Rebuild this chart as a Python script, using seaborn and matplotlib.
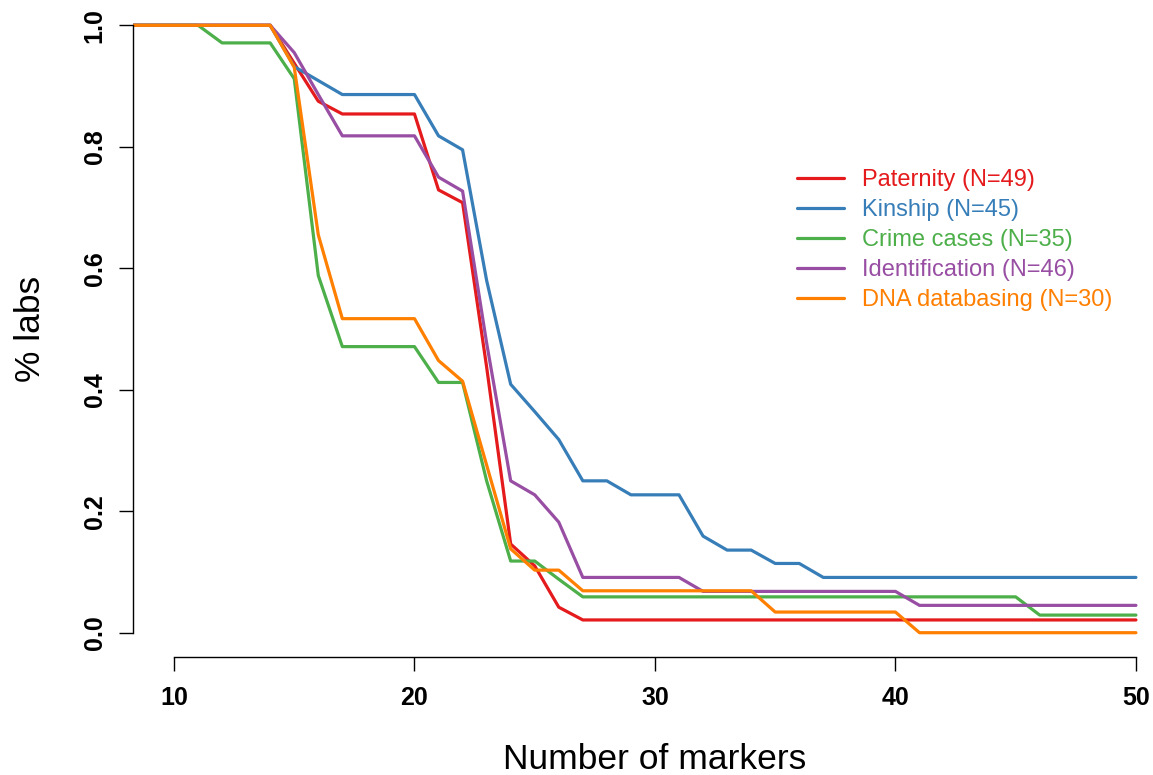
import matplotlib
matplotlib.use("Agg")
import matplotlib.pyplot as plt
import seaborn as sns
import pandas as pd

# ---------------- data ----------------
markers = [8, 9, 10, 11, 12, 13, 14, 15, 16, 17, 18, 19, 20, 21, 22, 23, 24, 25, 26, 27, 28,
           29, 30, 31, 32, 33, 34, 35, 36, 37, 38, 39, 40, 41, 42, 43, 44, 45, 46, 47, 48, 49, 50]

paternity = [1.0, 1.0, 1.0, 1.0, 1.0, 1.0, 1.0, 0.9375, 0.875, 0.854, 0.854, 0.854, 0.854,
             0.729, 0.708, 0.4375, 0.146, 0.11, 0.042, 0.021, 0.021, 0.021, 0.021, 0.021,
             0.021, 0.021, 0.021, 0.021, 0.021, 0.021, 0.021, 0.021, 0.021, 0.021, 0.021,
             0.021, 0.021, 0.021, 0.021, 0.021, 0.021, 0.021, 0.021]

kinship = [1.0, 1.0, 1.0, 1.0, 1.0, 1.0, 1.0, 0.932, 0.909, 0.886, 0.886, 0.886, 0.886,
           0.818, 0.795, 0.58, 0.409, 0.364, 0.318, 0.25, 0.25, 0.227, 0.227, 0.227,
           0.159, 0.136, 0.136, 0.114, 0.114, 0.091, 0.091, 0.091, 0.091, 0.091, 0.091,
           0.091, 0.091, 0.091, 0.091, 0.091, 0.091, 0.091, 0.091]

crime = [1.0, 1.0, 1.0, 1.0, 0.971, 0.971, 0.971, 0.912, 0.588, 0.471, 0.471, 0.471, 0.471,
         0.412, 0.412, 0.25, 0.118, 0.118, 0.088, 0.059, 0.059, 0.059, 0.059, 0.059,
         0.059, 0.059, 0.059, 0.059, 0.059, 0.059, 0.059, 0.059, 0.059, 0.059, 0.059,
         0.059, 0.059, 0.059, 0.029, 0.029, 0.029, 0.029, 0.029]

identification = [1.0, 1.0, 1.0, 1.0, 1.0, 1.0, 1.0, 0.955, 0.886, 0.818, 0.818, 0.818, 0.818,
                  0.75, 0.727, 0.477, 0.25, 0.227, 0.182, 0.091, 0.091, 0.091, 0.091, 0.091,
                  0.068, 0.068, 0.068, 0.068, 0.068, 0.068, 0.068, 0.068, 0.068, 0.045, 0.045,
                  0.045, 0.045, 0.045, 0.045, 0.045, 0.045, 0.045, 0.045]

databasing = [1.0, 1.0, 1.0, 1.0, 1.0, 1.0, 1.0, 0.931, 0.655, 0.517, 0.517, 0.517, 0.517,
              0.448, 0.414, 0.276, 0.138, 0.103, 0.103, 0.069, 0.069, 0.069, 0.069, 0.069,
              0.069, 0.069, 0.069, 0.034, 0.034, 0.034, 0.034, 0.034, 0.034, 0.0, 0.0,
              0.0, 0.0, 0.0, 0.0, 0.0, 0.0, 0.0, 0.0]

series_labels = ["Paternity (N=49)", "Kinship (N=45)", "Crime cases (N=35)",
                 "Identification (N=46)", "DNA databasing (N=30)"]
series_values = [paternity, kinship, crime, identification, databasing]
series_colors = ["#E41A1C", "#377EB8", "#4DAF4A", "#984EA3", "#FF7F00"]

x_ticks = [10, 20, 30, 40, 50]
y_ticks = [0.0, 0.2, 0.4, 0.6, 0.8, 1.0]
y_ticklabels = ["0.0", "0.2", "0.4", "0.6", "0.8", "1.0"]

# ---------------- build table ----------------
rows = []
for lab, vals in zip(series_labels, series_values):
    for m, v in zip(markers, vals):
        rows.append({"markers": m, "labs": v, "type": lab})
df = pd.DataFrame(rows)

# ---------------- style ----------------
sns.set_style("white")
plt.rcParams["font.family"] = ["Liberation Sans", "DejaVu Sans"]
plt.rcParams["text.color"] = "black"
plt.rcParams["axes.labelcolor"] = "black"
plt.rcParams["xtick.color"] = "black"
plt.rcParams["ytick.color"] = "black"

W, H = 1153, 775
fig = plt.figure(figsize=(W / 100, H / 100), dpi=100)
ax = fig.add_axes([133 / W, 118 / H, (W - 133) / W, (H - 118 - 1) / H])

sns.lineplot(data=df, x="markers", y="labs", hue="type", hue_order=series_labels,
             palette=dict(zip(series_labels, series_colors)), linewidth=2.3,
             ax=ax, legend=True)

ax.set_xlim(8.295, 50.71)
ax.set_ylim(-0.04, 1.04)

for s in ["top", "right"]:
    ax.spines[s].set_visible(False)
ax.spines["left"].set_bounds(0, 1)
ax.spines["bottom"].set_bounds(10, 50)
for s in ["left", "bottom"]:
    ax.spines[s].set_color("black")
    ax.spines[s].set_linewidth(1.0)

ax.set_xticks(x_ticks)
ax.set_xticklabels([str(t) for t in x_ticks], fontsize=18, fontweight="bold", color="black")
ax.set_yticks(y_ticks)
ax.set_yticklabels(y_ticklabels, fontsize=18, fontweight="bold", rotation=90, va="center",
                   color="black")
ax.tick_params(axis="both", direction="out", length=10, width=1.0, color="black")
ax.tick_params(axis="x", pad=11, bottom=True)
ax.tick_params(axis="y", pad=9, left=True)

ax.set_xlabel("Number of markers", fontsize=25.5, color="black")
ax.xaxis.label.set_va("baseline")
ax.xaxis.set_label_coords(0.511, (657 - 769) / 656)
ax.set_ylabel("% labs", fontsize=25.5, color="black")
ax.yaxis.label.set_va("baseline")
ax.yaxis.set_label_coords((40 - 133) / 1020, (657 - 329) / 656)

handles, labels = ax.get_legend_handles_labels()
ax.legend(handles, labels, loc="upper left",
          bbox_to_anchor=((797 - 133) / 1020, (657 - 169) / 656),
          frameon=False, fontsize=17, labelcolor="linecolor",
          handlelength=2.0, handletextpad=0.75, labelspacing=0.34,
          borderpad=0, borderaxespad=0)

fig.savefig("out.png", dpi=100)
